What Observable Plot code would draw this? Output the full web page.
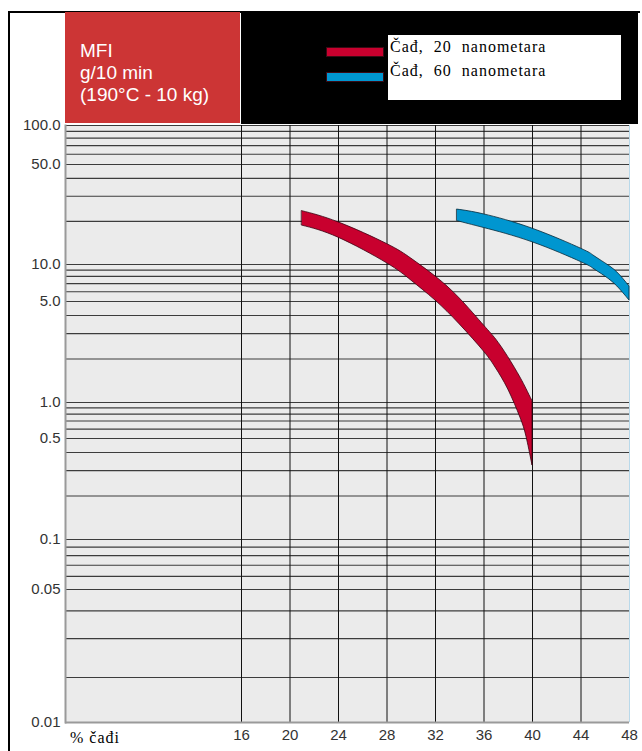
<!DOCTYPE html>
<html>
<head>
<meta charset="utf-8">
<script src="https://cdn.jsdelivr.net/npm/d3@7"></script>
<script src="https://cdn.jsdelivr.net/npm/@observablehq/plot@0.6"></script>
<style>
  body { margin: 0; background: #fff; }
  #wrap { position: relative; width: 642px; height: 751px; overflow: hidden; background: #fff; }
  #chart { position: absolute; left: 0; top: 110px; }
  .abs { position: absolute; }
  #redbox { left: 65px; top: 12px; width: 175px; height: 111px; background: #cc3535; color: #fff;
            font-family: "Liberation Sans", Arial, sans-serif; font-size: 19px; line-height: 22px;
            box-sizing: border-box; padding-left: 15px; padding-top: 28px; }
  #blackbox { left: 241px; top: 12px; width: 397px; height: 112px; background: #000; }
  #legbox { left: 388px; top: 35px; width: 233px; height: 65px; background: #fff; }
  .sw { left: 326px; width: 56px; height: 8px; border: 1px solid #3a0a14; }
  #legtext { left: 390px; top: 35px; font-family: "Liberation Serif", "Times New Roman", serif;
             font-size: 16px; line-height: 24px; color: #000; white-space: pre; letter-spacing: 1px; }
  #xlab { left: 70px; top: 729px; font-family: "Liberation Serif", "Times New Roman", serif;
          font-size: 16px; line-height: 17px; color: #000; white-space: pre; letter-spacing: 1px; }
</style>
</head>
<body>
<div id="wrap">
  <div id="chart"></div>
  <div class="abs" style="left:8px;top:11px;width:2px;height:740px;background:#000"></div>
  <div class="abs" style="left:8px;top:11px;width:632px;height:2px;background:#000"></div>
  <div class="abs" id="redbox"></div>
  <div class="abs" id="blackbox"></div>
  <div class="abs" id="legbox"></div>
  <div class="abs sw" id="sw1" style="top:47px"></div>
  <div class="abs sw" id="sw2" style="top:72px"></div>
  <div class="abs" id="legtext"></div>
  <div class="abs" id="xlab"></div>
</div>
<script>
// ---- data ----
const seriesNames = ["Čađ,  20  nanometara", "Čađ,  60  nanometara"];
const seriesColors = ["#c8002e", "#0096d0"];

const redX    = [21, 24, 28, 30, 32, 34, 36, 37, 38, 39, 39.5, 40];
const redHigh = [23.6, 19.7, 13.9, 11.0, 7.99, 5.29, 3.41, 2.73, 2.06, 1.49, 1.24, 1.02];
const redLow  = [18.7, 15.4, 10.2, 7.41, 5.09, 3.47, 2.25, 1.72, 1.23, 0.749, 0.519, 0.325];

const blueX    = [33.8, 36, 40, 44, 45, 46, 47, 48];
const blueHigh = [24.2, 22.4, 17.8, 12.9, 11.6, 10.2, 8.61, 6.62];
const blueLow  = [20.1, 18.0, 14.3, 10.4, 9.28, 7.99, 6.62, 5.09];

const xTicks = [16, 20, 24, 28, 32, 36, 40, 44, 48];
const xGrid  = [16, 20, 24, 28, 32, 36, 40, 44];
const yTicks = [0.01, 0.05, 0.1, 0.5, 1, 5, 10, 50, 100];
const yTickLabels = ["0.01", "0.05", "0.1", "0.5", "1.0", "5.0", "10.0", "50.0", "100.0"];
const yGrid = [0.01, 0.02, 0.03, 0.04, 0.05, 0.06, 0.07, 0.08, 0.09,
               0.1, 0.2, 0.3, 0.4, 0.5, 0.6, 0.7, 0.8, 0.9,
               1, 2, 3, 4, 5, 6, 7, 8, 9,
               10, 20, 30, 40, 50, 60, 70, 80, 90, 100];

const titleLines = ["MFI", "g/10 min", "(190°C - 10 kg)"];
const xAxisTitle = "% čađi";

// ---- build tables ----
const redData = redX.map((x, i) => ({x, lo: redLow[i], hi: redHigh[i]}));
const blueData = blueX.map((x, i) => ({x, lo: blueLow[i], hi: blueHigh[i]}));
const yLabelData = yTicks.map((v, i) => ({v, label: yTickLabels[i]}));

const chart = Plot.plot({
  width: 642,
  height: 641,
  marginTop: 15,
  marginBottom: 29,
  marginLeft: 65,
  marginRight: 13,
  style: {fontFamily: "'Liberation Sans', Arial, sans-serif", fontSize: "15px", color: "#333", background: "transparent", overflow: "visible"},
  x: {domain: [16, 48], range: [241, 629], axis: null},
  y: {
    type: "log",
    domain: [0.01, 0.02, 0.05, 0.1, 0.5, 1, 5, 10, 50, 100],
    range: [612, 567, 479, 429, 328, 292, 191, 154, 54, 15],
    axis: null
  },
  marks: [
    Plot.frame({fill: "#ebebeb"}),
    Plot.ruleY(yGrid, {stroke: "#3c3c3c", strokeWidth: 1.2}),
    Plot.ruleX(xGrid, {stroke: "#111", strokeWidth: 1}),
    Plot.ruleX([48], {stroke: "#b9d9ea", strokeWidth: 1}),
    Plot.ruleY([0.01], {stroke: "#9a9a9a", strokeWidth: 2}),
    Plot.frame({anchor: "left", stroke: "#9a9a9a", strokeWidth: 2}),
    Plot.areaY(redData, {x: "x", y1: "lo", y2: "hi", fill: seriesColors[0], stroke: "#3a0010", strokeWidth: 0.8, curve: "natural"}),
    Plot.areaY(blueData, {x: "x", y1: "lo", y2: "hi", fill: seriesColors[1], stroke: "#062a3a", strokeWidth: 0.8, curve: "natural"}),
    Plot.text(yLabelData, {y: "v", text: "label", frameAnchor: "left", dx: -5, textAnchor: "end", fill: "#333", fontSize: 15}),
    Plot.text(xTicks, {x: d => d, text: d => String(d), frameAnchor: "bottom", dy: 17, fill: "#333", fontSize: 15})
  ]
});
document.getElementById("chart").appendChild(chart);

document.getElementById("redbox").innerHTML = titleLines.map(t => `<div>${t}</div>`).join("");
document.getElementById("legtext").innerHTML = seriesNames.map(t => `<div>${t}</div>`).join("");
document.getElementById("sw1").style.background = seriesColors[0];
document.getElementById("sw2").style.background = seriesColors[1];
document.getElementById("xlab").textContent = xAxisTitle;
</script>
</body>
</html>
